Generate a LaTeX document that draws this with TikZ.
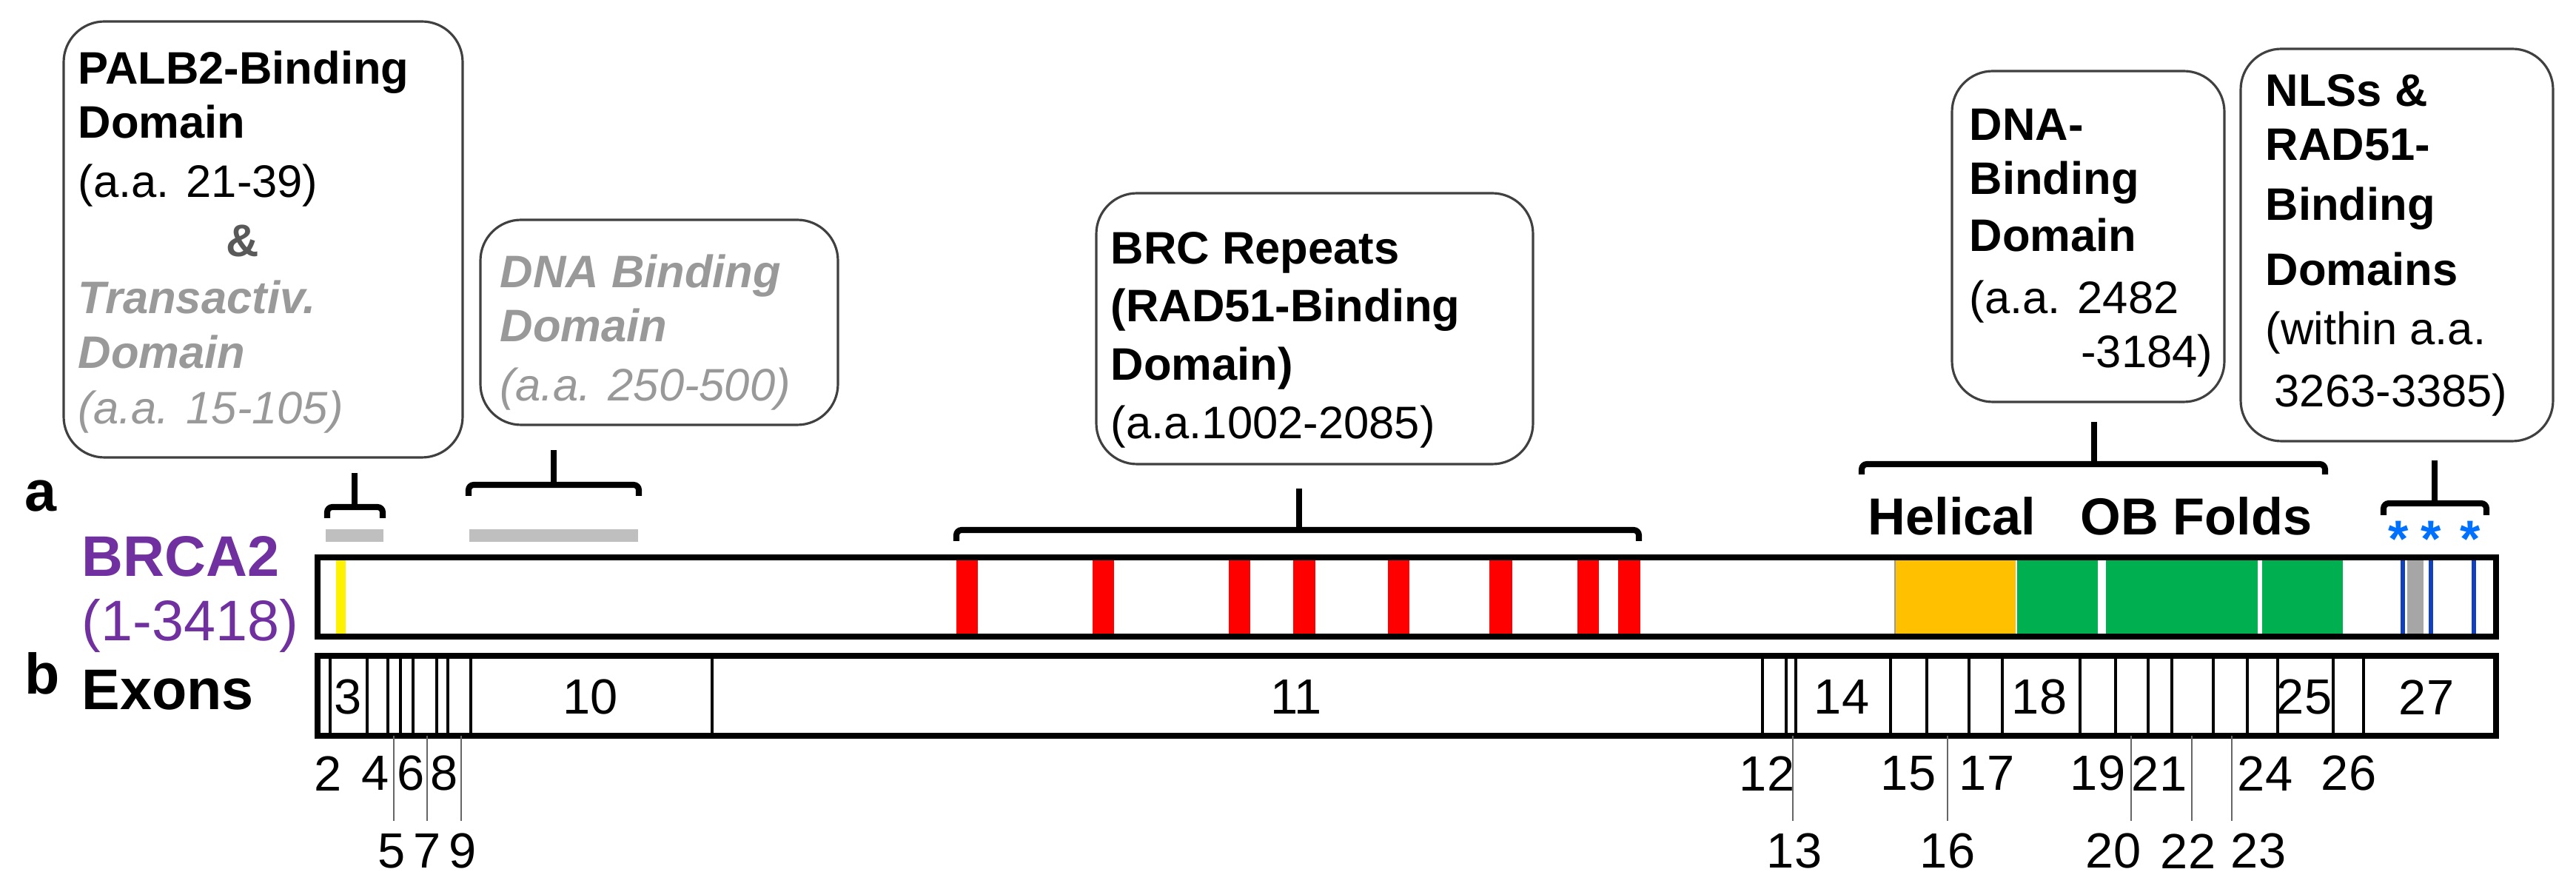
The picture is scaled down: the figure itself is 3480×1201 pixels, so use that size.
\documentclass[tikz,border=0pt]{standalone}
\usepackage{fontspec}
\setmainfont{Liberation Sans}
\definecolor{purp}{HTML}{7030A0}
\definecolor{lgray}{HTML}{999999}
\definecolor{bargray}{HTML}{BFBFBF}
\definecolor{dgray}{HTML}{595959}
\definecolor{astblue}{HTML}{0070FF}
\definecolor{lineblue}{HTML}{1040C0}
\definecolor{ggreen}{HTML}{00B050}
\definecolor{gyellow}{HTML}{FFC000}
\begin{document}
\begin{tikzpicture}[x=0.01cm,y=-0.01cm,
  box/.style={draw=black!75, line width=0.9pt, rounded corners=0.55cm},
  bt/.style={anchor=base west, inner sep=0, font=\fontsize{17.5}{21}\selectfont},
  num/.style={inner sep=0, font=\fontsize{19}{22}\selectfont},
  big/.style={anchor=west, inner sep=0, font=\fontsize{22}{26}\selectfont\bfseries},
  brk/.style={line width=2.3pt, rounded corners=2pt},
  exl/.style={line width=0.9pt},
  ext/.style={line width=0.5pt, black!60},
  outl/.style={draw, line width=2.3pt}]
\useasboundingbox (0,0) rectangle (3480,1201);

% ---------- boxes ----------
\draw[box] (86,29) rectangle (625,618);
\node[bt,font=\fontsize{17.5}{21}\selectfont\bfseries] (p1) at (105,114) {PALB2-Binding};
\node[bt,font=\fontsize{17.5}{21}\selectfont\bfseries] (p2) at (105,187) {Domain};
\node[bt] (p3) at (105,267) {(a.a. 21-39)};
\node[bt,font=\fontsize{17.5}{21}\selectfont\bfseries,text=dgray] (p4) at (305,347) {\&};
\node[bt,font=\fontsize{17.5}{21}\selectfont\bfseries\itshape,text=lgray] (p5) at (105,424) {Transactiv.};
\node[bt,font=\fontsize{17.5}{21}\selectfont\bfseries\itshape,text=lgray] (p6) at (105,498) {Domain};
\node[bt,font=\fontsize{17.5}{21}\selectfont\itshape,text=lgray] (p7) at (105,573) {(a.a. 15-105)};

\draw[box] (649,297) rectangle (1132,574);
\node[bt,font=\fontsize{17.5}{21}\selectfont\bfseries\itshape,text=lgray] (d1) at (675,389) {DNA Binding};
\node[bt,font=\fontsize{17.5}{21}\selectfont\bfseries\itshape,text=lgray] (d2) at (675,462) {Domain};
\node[bt,font=\fontsize{17.5}{21}\selectfont\itshape,text=lgray] (d3) at (675,542) {(a.a. 250-500)};

\draw[box] (1481,261) rectangle (2071,627);
\node[bt,font=\fontsize{17.5}{21}\selectfont\bfseries] (b1) at (1500,357) {BRC Repeats};
\node[bt,font=\fontsize{17.5}{21}\selectfont\bfseries] (b2) at (1500,435) {(RAD51-Binding};
\node[bt,font=\fontsize{17.5}{21}\selectfont\bfseries] (b3) at (1500,514) {Domain)};
\node[bt] (b4) at (1500,593) {(a.a.1002-2085)};

\draw[box] (2637,96) rectangle (3005,543);
\node[bt,font=\fontsize{17.5}{21}\selectfont\bfseries] (n1) at (2660,190) {DNA-};
\node[bt,font=\fontsize{17.5}{21}\selectfont\bfseries] (n2) at (2660,263) {Binding};
\node[bt,font=\fontsize{17.5}{21}\selectfont\bfseries] (n3) at (2660,340) {Domain};
\node[bt] (n4) at (2660,424) {(a.a. 2482};
\node[bt,anchor=base east] (n5) at (2990,497) {-3184)};

\draw[box] (3027,66) rectangle (3449,596);
\node[bt,font=\fontsize{17.5}{21}\selectfont\bfseries] (s1) at (3060,144) {NLSs \&};
\node[bt,font=\fontsize{17.5}{21}\selectfont\bfseries] (s2) at (3060,217) {RAD51-};
\node[bt,font=\fontsize{17.5}{21}\selectfont\bfseries] (s3) at (3060,298) {Binding};
\node[bt,font=\fontsize{17.5}{21}\selectfont\bfseries] (s4) at (3060,386) {Domains};
\node[bt] (s5) at (3060,466) {(within a.a.};
\node[bt] (s6) at (3072,550) {3263-3385)};

% ---------- brackets ----------
\draw[brk] (442,700) -- (442,685) -- (517,685) -- (517,700);
\draw[line width=2.3pt] (479,639) -- (479,685);
\draw[brk] (633,670) -- (633,655) -- (863,655) -- (863,670);
\draw[line width=2.3pt] (748,608) -- (748,655);
\draw[brk] (1292,731) -- (1292,716) -- (2214,716) -- (2214,731);
\draw[line width=2.3pt] (1755,660) -- (1755,716);
\draw[brk] (2515,641) -- (2515,627) -- (3141,627) -- (3141,641);
\draw[line width=2.3pt] (2829,570) -- (2829,627);
\draw[brk] (3220,696) -- (3220,680) -- (3359,680) -- (3359,696);
\draw[line width=2.3pt] (3289,622) -- (3289,680);

\fill[bargray] (440,715) rectangle (518,732);
\fill[bargray] (634,715) rectangle (862,732);

% ---------- labels ----------
\node[big] (la) at (33,670) {a};
\node[big] (lb) at (33,910) {b};
\node[big,text=purp] (brca) at (110,752) {BRCA2};
\node[anchor=west,inner sep=0,font=\fontsize{22}{26}\selectfont,text=purp] (rng) at (110,845) {(1-3418)};
\node[big] (exons) at (110,932) {Exons};
\node[inner sep=0,font=\fontsize{20}{24}\selectfont\bfseries] (hel) at (2637,697) {Helical};
\node[inner sep=0,font=\fontsize{20}{24}\selectfont\bfseries] (ob) at (2967,697) {OB Folds};
\foreach \x/\n in {3240/a1,3284/a2,3337/a3}
  \node[inner sep=0,text=astblue,font=\fontsize{20}{22}\selectfont\bfseries] (\n) at (\x,728) {*};

% ---------- protein bar ----------
\fill[yellow] (454,756) rectangle (467,857);
\foreach \a/\b in {1292/1321,1476/1505,1660/1689,1747/1777,1875/1904,2012/2043,2131/2160,2186/2216}
  \fill[red] (\a,756) rectangle (\b,857);
\fill[gyellow] (2560,756) rectangle (2723,857);
\draw[black!40,line width=0.3pt] (2560,756) -- (2560,857);
\fill[ggreen] (2725,756) rectangle (2834,857);
\fill[ggreen] (2845,756) rectangle (3050,857);
\fill[ggreen] (3056,756) rectangle (3165,857);
\fill[gray!70] (3252,756) rectangle (3274,857);
\foreach \x in {3246,3284,3342}
  \draw[lineblue,line width=1.6pt] (\x,756) -- (\x,857);
\draw[outl] (429,753) rectangle (3372,860) node[coordinate] (pbar) {};

% ---------- exon bar ----------
\foreach \x in {446,496,524,541,558,590,605,636,962,2381,2413,2426,2554,2603,2660,2705,2810,2858,2902,2934,2990,3036,3077,3152,3193}
  \draw[exl] (\x,886) -- (\x,994);
\draw[outl] (429,886) rectangle (3372,994) node[coordinate] (ebar) {};
\foreach \x in {532,577,623,2422,2631,2879,2961,3015}
  \draw[ext] (\x,994) -- (\x,1109);
\foreach \x/\t/\n in {470/3/e3,798/10/e10,1751/11/e11,2488/14/e14,2755/18/e18,3113/25/e25,3278/27/e27}
  \node[num] (\n) at (\x,942) {\t};
\foreach \x/\t/\n in {443/2/e2,507/4/e4,555/6/e6,600/8/e8,2387/12/e12,2578/15/e15,2684/17/e17,2834/19/e19,2917/21/e21,3060/24/e24,3173/26/e26}
  \node[num] (\n) at (\x,1045) {\t};
\foreach \x/\t/\n in {529/5/e5,577/7/e7,625/9/e9,2424/13/e13,2631/16/e16,2855/20/e20,2956/22/e22,3051/23/e23}
  \node[num] (\n) at (\x,1150) {\t};
\end{tikzpicture}
\end{document}
